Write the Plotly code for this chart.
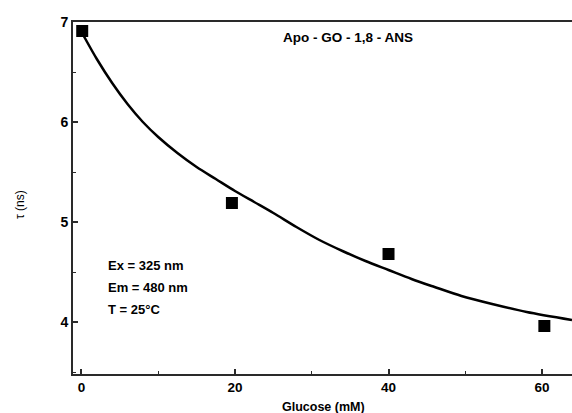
import plotly.graph_objects as go

# measured data points
glucose = [0.1, 19.6, 40.0, 60.3]
tau = [6.91, 5.19, 4.68, 3.96]

# fitted curve
fit_x = [0.3, 2.0, 4.0, 6.0, 8.0, 10.0, 12.5, 15.0, 17.5, 20.0, 22.5, 25.0, 28.0,
         31.0, 34.0, 37.0, 40.0, 43.0, 46.0, 49.5, 53.5, 58.0, 63.9]
fit_y = [6.86, 6.63, 6.39, 6.18, 6.00, 5.85, 5.69, 5.55, 5.43, 5.31, 5.20, 5.09, 4.95,
         4.82, 4.71, 4.61, 4.52, 4.43, 4.35, 4.26, 4.18, 4.10, 4.02]

x_ticks = [0, 20, 40, 60]
y_ticks = [4, 5, 6, 7]

title_text = "Apo - GO - 1,8 - ANS"
cond_lines = ["Ex = 325 nm", "Em = 480 nm", "T = 25°C"]

FONT = "Arial, Liberation Sans, sans-serif"
AX = "#2a2a2a"

# plot area on screen spans x 73..572, y 22..374 (body margin removed below)
PL, PR, PT, PB = 73, 572, 22, 374
W, H = 572, 413


def px(sx):
    return (sx - PL) / (PR - PL)


def py(sy):
    return (PB - sy) / (PB - PT)


fig = go.Figure()
fig.add_trace(go.Scatter(x=fit_x, y=fit_y, mode="lines",
                         line=dict(color="black", width=2.5, shape="spline", smoothing=0.8),
                         hoverinfo="skip", showlegend=False))
fig.add_trace(go.Scatter(x=glucose, y=tau, mode="markers",
                         marker=dict(symbol="square", size=12, color="black"),
                         showlegend=False))

fig.update_layout(
    width=W, height=H,
    margin=dict(l=PL, r=W - PR, t=PT, b=H - PB, pad=0),
    paper_bgcolor="white", plot_bgcolor="white",
    font=dict(family=FONT, color="black"),
    xaxis=dict(range=[-1.1, 63.9], tickvals=x_ticks, ticks="inside", ticklen=5,
               tickwidth=1.5, tickcolor=AX, showline=True, linecolor=AX, linewidth=2,
               mirror=True, showgrid=False, zeroline=False,
               tickfont=dict(size=13.5, family=FONT, weight="bold"),
               minor=dict(dtick=10, tick0=0, ticks="inside", ticklen=3, tickcolor=AX,
                          tickwidth=1.2, showgrid=False)),
    yaxis=dict(range=[3.48, 7.0], tickvals=y_ticks, ticks="inside", ticklen=5,
               tickwidth=1.5, tickcolor=AX, showline=True, linecolor=AX, linewidth=2,
               mirror=False, showgrid=False, zeroline=False,
               tickfont=dict(size=14, family=FONT, weight="bold"),
               minor=dict(dtick=0.5, tick0=0, ticks="inside", ticklen=3, tickcolor=AX,
                          tickwidth=1.2, showgrid=False)),
)

annos = [
    dict(text="<b>" + title_text + "</b>", x=px(348), y=py(37), xanchor="center",
         font=dict(size=13.5)),
    dict(text="<b>Glucose (mM)</b>", x=px(323), y=py(407), xanchor="center",
         font=dict(size=12.5)),
    dict(text="τ (ns)", x=px(20), y=py(205), xanchor="center", textangle=-90,
         font=dict(size=12)),
]
for i, t in enumerate(cond_lines):
    annos.append(dict(text="<b>" + t + "</b>", x=px(106), y=py(265 + 22 * i),
                      xanchor="left", font=dict(size=13)))
for a in annos:
    a.update(xref="paper", yref="paper", showarrow=False, yanchor="middle")
fig.update_layout(annotations=annos)

fig.write_html("out.html", config={"displayModeBar": False},
               post_script="document.body.style.margin='0';document.body.style.overflow='hidden';")
